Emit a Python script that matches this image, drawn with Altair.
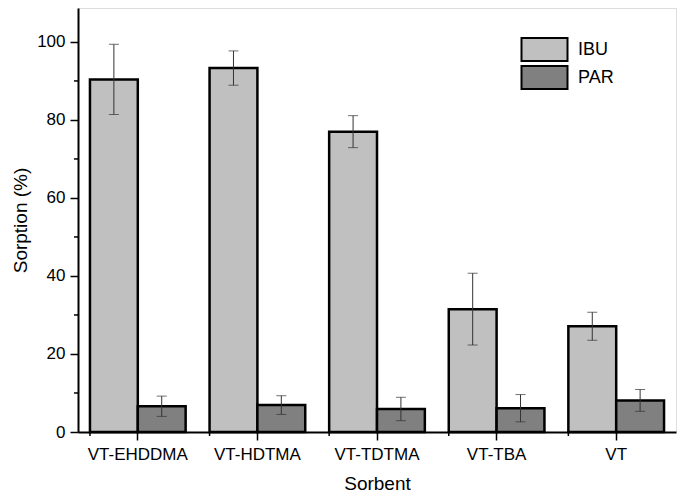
import altair as alt
import pandas as pd

sorbents = ["VT-EHDDMA", "VT-HDTMA", "VT-TDTMA", "VT-TBA", "VT"]
drugs = ["IBU", "PAR"]
ibu_mean = [90.4, 93.3, 77.0, 31.5, 27.1]
ibu_err = [9.0, 4.4, 4.1, 9.2, 3.6]
par_mean = [6.6, 6.9, 5.9, 6.1, 8.1]
par_err = [2.6, 2.4, 3.0, 3.5, 2.8]
y_major = [0, 20, 40, 60, 80, 100]
y_minor = [10, 30, 50, 70, 90]
colors = ["#c0c0c0", "#808080"]

rows = []
for i, s in enumerate(sorbents):
    rows.append({"sorbent": s, "drug": "IBU", "mean": ibu_mean[i],
                 "lo": ibu_mean[i] - ibu_err[i], "hi": ibu_mean[i] + ibu_err[i]})
    rows.append({"sorbent": s, "drug": "PAR", "mean": par_mean[i],
                 "lo": par_mean[i] - par_err[i], "hi": par_mean[i] + par_err[i]})
df = pd.DataFrame(rows)
cat_df = pd.DataFrame({"sorbent": sorbents})
minor_df = pd.DataFrame({"v": y_minor})

FONT = "Liberation Sans"
W, H = 598, 424

xenc = alt.X("sorbent:N", sort=sorbents, title="Sorbent",
             scale=alt.Scale(paddingInner=0.2, paddingOuter=0.1),
             axis=alt.Axis(labelAngle=0, ticks=True, tickSize=8, tickWidth=1.5,
                           tickColor="black", tickOpacity=1, domainColor="black",
                           domainWidth=2, labelFontSize=17, labelPadding=6,
                           titleFontSize=19, titlePadding=12, labelFont=FONT,
                           titleFont=FONT, titleFontWeight="normal",
                           labelColor="black", titleColor="black"))
xoff = alt.XOffset("drug:N", sort=drugs, scale=alt.Scale(paddingInner=0, paddingOuter=0))
yscale = alt.Scale(domain=[0, 108.7], nice=False, zero=True)
yenc = alt.Y("mean:Q", title="Sorption (%)", scale=yscale,
             axis=alt.Axis(values=y_major, grid=False, ticks=True, tickSize=8,
                           tickWidth=1.5, tickColor="black", tickOpacity=1,
                           domainColor="black", domainWidth=2, labelFontSize=17,
                           labelPadding=5, titleFontSize=19, titlePadding=6,
                           labelFont=FONT, titleFont=FONT, titleFontWeight="normal",
                           labelColor="black", titleColor="black"))

bars = alt.Chart(df).mark_bar(stroke="black", strokeWidth=2.5).encode(
    x=xenc, xOffset=xoff, y=yenc,
    color=alt.Color("drug:N", sort=drugs, title=None,
                    scale=alt.Scale(domain=drugs, range=colors),
                    legend=alt.Legend(orient="none", legendX=454, legendY=29,
                                      symbolType="M-2,-1H2V1H-2Z", symbolSize=529,
                                      symbolStrokeColor="black", symbolStrokeWidth=2,
                                      symbolOpacity=1, rowPadding=-9,
                                      labelFontSize=18, labelFont=FONT, labelColor="black",
                                      labelOffset=21, padding=0)),
)

err = alt.Chart(df).mark_rule(color="#333333", strokeWidth=1).encode(
    x=alt.X("sorbent:N", sort=sorbents), xOffset=xoff,
    y=alt.Y("lo:Q", scale=yscale), y2="hi:Q")
cap_lo = alt.Chart(df).mark_tick(color="#333333", size=10, thickness=1).encode(
    x=alt.X("sorbent:N", sort=sorbents), xOffset=xoff, y=alt.Y("lo:Q", scale=yscale))
cap_hi = alt.Chart(df).mark_tick(color="#333333", size=10, thickness=1).encode(
    x=alt.X("sorbent:N", sort=sorbents), xOffset=xoff, y=alt.Y("hi:Q", scale=yscale))

minor_x = alt.Chart(cat_df).mark_rule(color="black", strokeWidth=1.5).encode(
    x=alt.X("sorbent:N", sort=sorbents, bandPosition=0),
    y=alt.value(H), y2=alt.value(H + 4))
minor_y = alt.Chart(minor_df).mark_rule(color="black", strokeWidth=1.5).encode(
    y=alt.Y("v:Q", scale=yscale), x=alt.value(-4), x2=alt.value(0))

chart = alt.layer(bars, err, cap_lo, cap_hi, minor_x, minor_y).properties(
    width=W, height=H,
    autosize=alt.AutoSizeParams(type="none"),
    padding={"left": 70, "top": 0, "right": 1, "bottom": 63},
).configure_view(stroke="black", strokeWidth=2).configure(background="white")

chart.save("out.html", embed_options={"renderer": "svg", "actions": False})
